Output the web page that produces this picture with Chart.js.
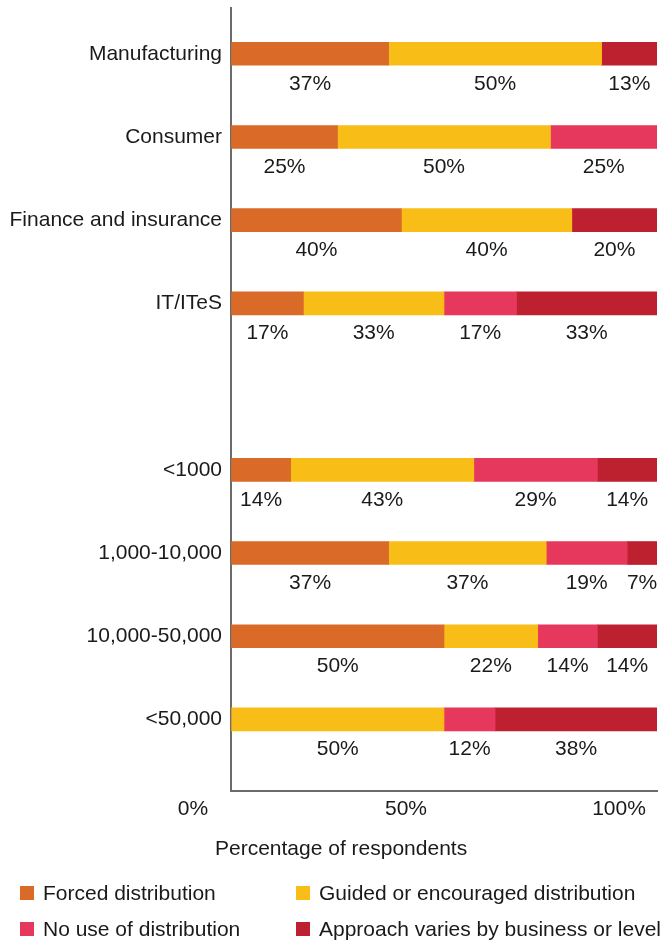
<!DOCTYPE html>
<html>
<head>
<meta charset="utf-8">
<script src="https://cdn.jsdelivr.net/npm/chart.js@4/dist/chart.umd.min.js"></script>
<style>
  body { margin: 0; background: #fff; }
  #wrap { position: relative; width: 670px; height: 940px; font-family: 'Liberation Sans', Arial, sans-serif; color: #1a1a1a; }
  #chart { position: absolute; left: 0; top: 0; }
  #xtitle { position: absolute; left: 215px; top: 835px; font-size: 21px; line-height: 26px; }
  #legend { position: absolute; left: 20px; top: 875px; display: grid; grid-template-columns: 276px auto; }
  .item { height: 36px; line-height: 36px; font-size: 21px; white-space: nowrap; }
  .box { display: inline-block; width: 14px; height: 14px; margin-right: 9px; }
</style>
</head>
<body>
<div id="wrap">
  <canvas id="chart" width="670" height="940"></canvas>
  <div id="xtitle">Percentage of respondents</div>
  <div id="legend"></div>
</div>
<script>
// rows top to bottom, the empty one is the gap between the two groups
const categories = ['Manufacturing', 'Consumer', 'Finance and insurance', 'IT/ITeS', '',
                    '<1000', '1,000-10,000', '10,000-50,000', '<50,000'];
const seriesNames = ['Forced distribution', 'Guided or encouraged distribution',
                     'No use of distribution', 'Approach varies by business or level'];
const forced = [37, 25, 40, 17, null, 14, 37, 50, 0];
const guided = [50, 50, 40, 33, null, 43, 37, 22, 50];
const noUse  = [0, 25, 0, 17, null, 29, 19, 14, 12];
const varies = [13, 0, 20, 33, null, 14, 7, 14, 38];
const xTicks = [0, 50, 100];
const colors = ['#DA6A27', '#F8BE17', '#E6375C', '#BD2130'];

const textColor = '#1a1a1a';
const axisColor = '#6b6b6b';
const fontFamily = "'Liberation Sans', Arial, sans-serif";

// percentage under the middle of each segment
const valueLabels = {
  id: 'valueLabels',
  afterDatasetsDraw(chart) {
    const ctx = chart.ctx;
    ctx.save();
    ctx.font = '21px ' + fontFamily;
    ctx.fillStyle = textColor;
    ctx.textAlign = 'center';
    ctx.textBaseline = 'middle';
    chart.data.datasets.forEach((ds, i) => {
      chart.getDatasetMeta(i).data.forEach((bar, j) => {
        const v = ds.data[j];
        if (!v) return;
        const { x, base, y } = bar.getProps(['x', 'base', 'y'], true);
        ctx.fillText(v + '%', (x + base) / 2, y + 30);
      });
    });
    ctx.restore();
  }
};

const seriesValues = [forced, guided, noUse, varies];

new Chart(document.getElementById('chart'), {
  type: 'bar',
  data: {
    labels: categories.map((c, i) => i),
    datasets: seriesValues.map((vals, i) => ({
      label: seriesNames[i],
      data: vals,
      backgroundColor: colors[i],
      barThickness: 23,
      borderWidth: 0
    }))
  },
  options: {
    indexAxis: 'y',
    responsive: false,
    animation: false,
    layout: { padding: { top: 8, right: 13, bottom: 0, left: 0 } },
    plugins: {
      legend: { display: false },
      tooltip: { enabled: false }
    },
    scales: {
      x: {
        type: 'linear',
        stacked: true,
        min: 0,
        max: 100,
        afterBuildTicks: s => { s.ticks = xTicks.map(v => ({ value: v })); },
        afterFit: s => { s.height = 149; s.paddingLeft = 0; s.paddingRight = 0; },
        grid: { drawOnChartArea: false, drawTicks: false },
        border: { color: axisColor, width: 2 },
        ticks: {
          callback: v => v + '%',
          labelOffset: -38,
          padding: 6,
          autoSkip: false,
          maxRotation: 0,
          color: textColor,
          font: { family: fontFamily, size: 21 }
        }
      },
      y: {
        type: 'linear',
        stacked: true,
        reverse: true,
        offset: false,
        min: -0.55,
        max: 8.86,
        afterBuildTicks: s => { s.ticks = categories.map((c, i) => ({ value: i })); },
        afterFit: s => { s.width = 231; s.paddingTop = 0; s.paddingBottom = 0; },
        grid: { drawOnChartArea: false, drawTicks: false, offset: false },
        border: { color: axisColor, width: 2 },
        ticks: {
          callback: v => categories[v],
          padding: 9,
          autoSkip: false,
          color: textColor,
          font: { family: fontFamily, size: 21 }
        }
      }
    }
  },
  plugins: [valueLabels]
});

// two-column legend below the chart
const legend = document.getElementById('legend');
seriesNames.forEach((name, i) => {
  const item = document.createElement('div');
  item.className = 'item';
  const box = document.createElement('span');
  box.className = 'box';
  box.style.background = colors[i];
  item.appendChild(box);
  item.appendChild(document.createTextNode(name));
  legend.appendChild(item);
});
</script>
</body>
</html>
